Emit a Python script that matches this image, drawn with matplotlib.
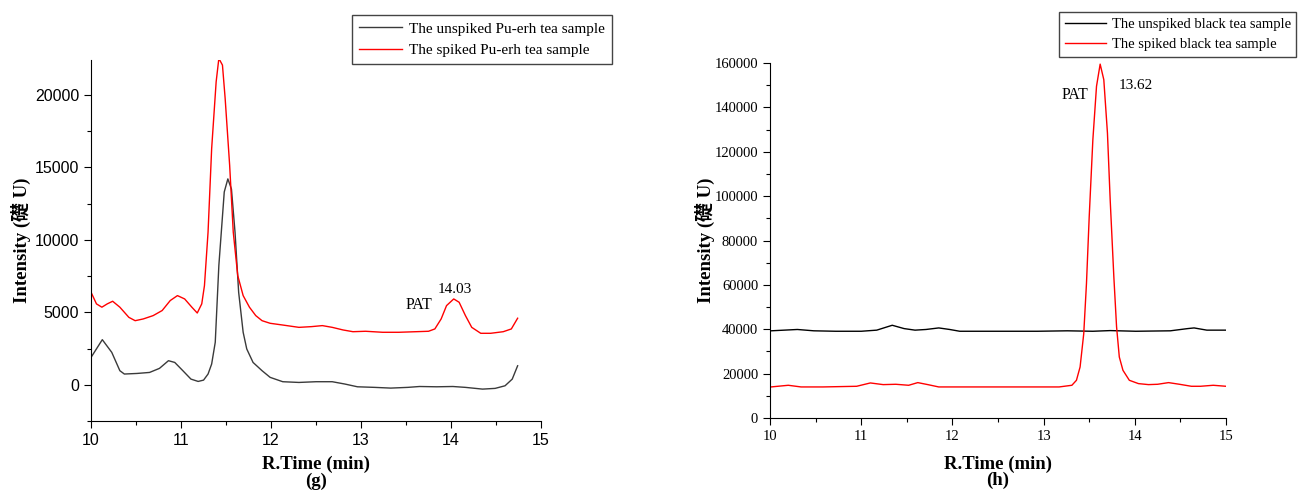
import matplotlib.pyplot as plt
from matplotlib.ticker import MultipleLocator

# (g) Pu-erh tea
g_unspiked_t = [10.00, 10.125, 10.23, 10.32, 10.37, 10.51, 10.65, 10.76, 10.86, 10.93, 11.02, 11.11,
                11.19, 11.25, 11.30, 11.34, 11.38, 11.42, 11.48, 11.52, 11.56, 11.60, 11.64, 11.69,
                11.73, 11.80, 11.90, 11.99, 12.13, 12.31, 12.50, 12.68, 12.82, 12.96, 13.15, 13.33,
                13.52, 13.65, 13.84, 14.02, 14.16, 14.35, 14.49, 14.60, 14.68, 14.74]
g_unspiked_y = [1890, 3110, 2235, 970, 740, 780, 850, 1130, 1660, 1540, 970, 390,
                230, 320, 740, 1430, 2930, 8230, 13300, 14200, 13500, 10500, 6380, 3620,
                2470, 1540, 970, 510, 210, 160, 210, 210, 50, -140, -180, -230,
                -180, -120, -140, -120, -180, -300, -250, -70, 390, 1310]

g_spiked_t = [10.00, 10.06, 10.12, 10.18, 10.24, 10.32, 10.42, 10.49, 10.58, 10.69, 10.79, 10.88,
              10.96, 11.04, 11.12, 11.18, 11.23, 11.26, 11.30, 11.34, 11.39, 11.42, 11.46, 11.49,
              11.54, 11.58, 11.63, 11.69, 11.76, 11.83, 11.90, 11.99, 12.13, 12.31, 12.45, 12.57,
              12.68, 12.80, 12.91, 13.05, 13.24, 13.42, 13.61, 13.75, 13.82, 13.89, 13.95, 14.03,
              14.09, 14.16, 14.23, 14.33, 14.44, 14.58, 14.67, 14.74]
g_spiked_y = [6380, 5580, 5350, 5580, 5760, 5350, 4650, 4420, 4540, 4770, 5120, 5810,
              6150, 5920, 5350, 4950, 5580, 6840, 10530, 16290, 20900, 22510, 22050, 19750,
              15140, 10530, 7530, 6150, 5350, 4770, 4420, 4240, 4120, 3960, 4010, 4080,
              3960, 3780, 3660, 3690, 3620, 3620, 3660, 3690, 3850, 4540, 5460, 5920,
              5690, 4770, 3960, 3550, 3550, 3660, 3850, 4590]

# (h) black tea
h_unspiked_t = [10.01, 10.30, 10.48, 10.72, 11.00, 11.17, 11.34, 11.47, 11.59, 11.71, 11.85, 11.97,
                12.08, 12.46, 12.93, 13.26, 13.54, 13.73, 14.01, 14.39, 14.58, 14.65, 14.79, 15.00]
h_unspiked_y = [39300, 39900, 39300, 39100, 39100, 39600, 41800, 40300, 39600, 39900, 40600, 39900,
                39100, 39100, 39100, 39300, 39100, 39400, 39100, 39300, 40300, 40600, 39600, 39600]

h_spiked_t = [10.01, 10.20, 10.34, 10.58, 10.95, 11.10, 11.24, 11.38, 11.52, 11.62, 11.73, 11.85,
              12.22, 12.70, 13.17, 13.31, 13.36, 13.40, 13.44, 13.47, 13.50, 13.54, 13.58, 13.62,
              13.66, 13.70, 13.73, 13.77, 13.80, 13.83, 13.87, 13.94, 14.04, 14.15, 14.25, 14.37,
              14.49, 14.62, 14.72, 14.86, 15.00]
h_spiked_y = [14000, 14750, 14000, 14000, 14300, 15800, 15050, 15200, 14750, 15950, 15050, 14000,
              14000, 14000, 14000, 14750, 17000, 23000, 38000, 60650, 90750, 125400, 149500, 159500,
              152500, 128400, 98300, 63700, 41100, 27500, 21500, 17000, 15500, 15050, 15200, 15950,
              15200, 14300, 14300, 14750, 14300]

serif = ['Liberation Serif', 'Noto Sans CJK SC', 'DejaVu Serif']
ylab = 'Intensity (礎 U)'

fig = plt.figure(figsize=(12.99, 4.92), dpi=100)

# ---- left panel
ax1 = fig.add_axes([0.0701, 0.1443, 0.3464, 0.7337])
ax1.plot(g_unspiked_t, g_unspiked_y, color='#3a3a3a', lw=1.0, label='The unspiked Pu-erh tea sample')
ax1.plot(g_spiked_t, g_spiked_y, color='#ff0000', lw=1.0, label='The spiked Pu-erh tea sample')
ax1.set_xlim(10, 15)
ax1.set_ylim(-2500, 22400)
ax1.set_xticks([10, 11, 12, 13, 14, 15])
ax1.set_yticks([0, 5000, 10000, 15000, 20000])
ax1.xaxis.set_minor_locator(MultipleLocator(0.5))
ax1.yaxis.set_minor_locator(MultipleLocator(2500))
for lab in ax1.get_xticklabels() + ax1.get_yticklabels():
    lab.set_family('Liberation Sans')
    lab.set_fontsize(11.5)
ax1.text(13.64, 5500, 'PAT', family=serif, fontsize=11.5, ha='center', va='center')
ax1.text(14.04, 6600, '14.03', family=serif, fontsize=11, ha='center', va='center')
ax1.legend(loc='upper left', bbox_to_anchor=(352 / 1299, 1 - 15 / 492), bbox_transform=fig.transFigure,
           prop={'family': serif, 'size': 11}, fancybox=False, edgecolor='#444444', framealpha=1,
           handlelength=2.8, borderaxespad=0, borderpad=0.45, labelspacing=0.5, handletextpad=0.5)
ax1.set_xlabel('R.Time (min)\n(g)', family=serif, fontsize=13.5, fontweight='bold', linespacing=0.95, labelpad=6)
ax1.set_ylabel(ylab, family=serif, fontsize=13.5, fontweight='bold', labelpad=3)

# ---- right panel
ax2 = fig.add_axes([0.5928, 0.1504, 0.351, 0.7215])
ax2.plot(h_unspiked_t, h_unspiked_y, color='#000000', lw=1.0, label='The unspiked black tea sample')
ax2.plot(h_spiked_t, h_spiked_y, color='#ff0000', lw=1.0, label='The spiked black tea sample')
ax2.set_xlim(10, 15)
ax2.set_ylim(0, 160000)
ax2.set_xticks([10, 11, 12, 13, 14, 15])
ax2.set_yticks(range(0, 160001, 20000))
ax2.xaxis.set_minor_locator(MultipleLocator(0.5))
ax2.yaxis.set_minor_locator(MultipleLocator(10000))
for lab in ax2.get_xticklabels() + ax2.get_yticklabels():
    lab.set_family('Liberation Serif')
    lab.set_fontsize(10.5)
ax2.text(13.34, 145400, 'PAT', family=serif, fontsize=11.5, ha='center', va='center')
ax2.text(14.01, 149900, '13.62', family=serif, fontsize=11, ha='center', va='center')
ax2.legend(loc='upper left', bbox_to_anchor=(1059 / 1299, 1 - 12 / 492), bbox_transform=fig.transFigure,
           prop={'family': serif, 'size': 10.5}, fancybox=False, edgecolor='#444444', framealpha=1,
           handlelength=2.8, borderaxespad=0, borderpad=0.4, labelspacing=0.45, handletextpad=0.4)
ax2.set_xlabel('R.Time (min)\n(h)', family=serif, fontsize=13.5, fontweight='bold', linespacing=0.95, labelpad=9)
ax2.set_ylabel(ylab, family=serif, fontsize=13.5, fontweight='bold', labelpad=0)

for ax in (ax1, ax2):
    ax.spines['top'].set_visible(False)
    ax.spines['right'].set_visible(False)
    ax.tick_params(which='major', direction='out', length=5, width=0.8)
    ax.tick_params(which='minor', direction='out', length=3, width=0.8)

fig.savefig('out.png', dpi=100)
